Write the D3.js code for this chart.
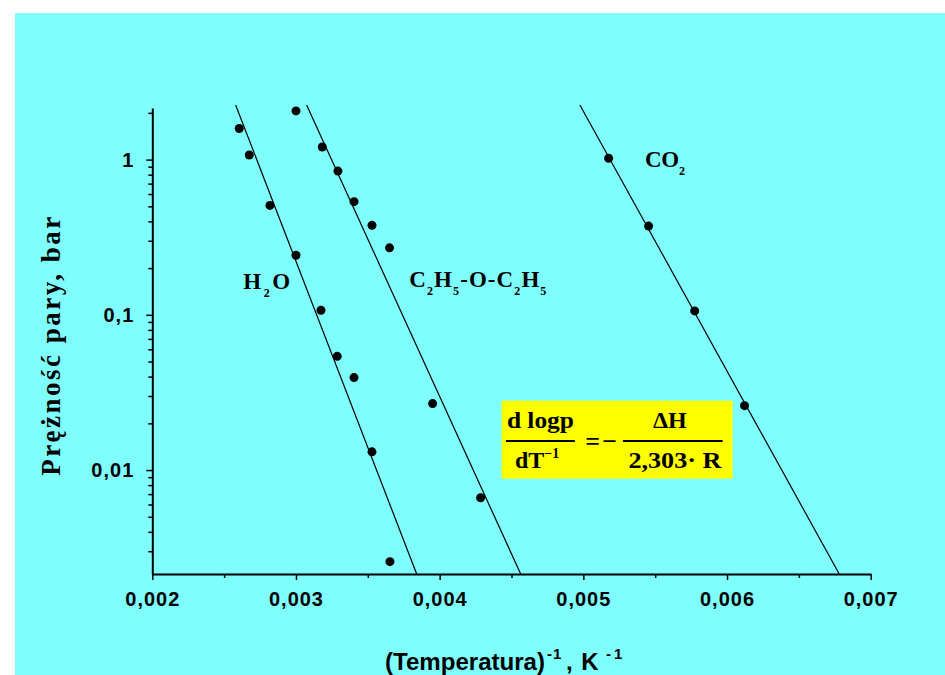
<!DOCTYPE html>
<meta charset="utf-8">
<title>Prężność pary</title>
<style>
body { margin:0; background:#fff; }
.tick text { font: bold 20px "Liberation Sans", Arial, sans-serif; letter-spacing:1px; }
.lbl { font-family:"Liberation Serif","Times New Roman",serif; font-weight:bold; fill:#000; }
.xlbl { font-family:"Liberation Sans",Arial,sans-serif; font-weight:bold; fill:#000; }
</style>
<svg width="945" height="675"></svg>
<script src="https://d3js.org/d3.v7.min.js"></script>
<script>
// tick values and labels
var xTicks = [0.002, 0.003, 0.004, 0.005, 0.006, 0.007];
var xTickLabels = ["0,002", "0,003", "0,004", "0,005", "0,006", "0,007"];
var xMinor = [0.0025, 0.0035, 0.0045, 0.0055, 0.0065];
var yTicks = [0.01, 0.1, 1];
var yTickLabels = ["0,01", "0,1", "1"];

// measured points (1/T, p)
var h2oX = [0.002605, 0.002675, 0.002819, 0.003000, 0.003174, 0.003287, 0.003404, 0.003529, 0.003654];
var h2oP = [1.585, 1.07, 0.507, 0.242, 0.107, 0.054, 0.0394, 0.0131, 0.00257];
var eterX = [0.003000, 0.003183, 0.003292, 0.003404, 0.003529, 0.003651, 0.003951, 0.004285];
var eterP = [2.06, 1.205, 0.843, 0.536, 0.377, 0.270, 0.0268, 0.00663];
var co2X = [0.005176, 0.005454, 0.005775, 0.006122];
var co2P = [1.02, 0.373, 0.106, 0.026];

// fitted lines, end points
var h2oFitX = [0.00258, 0.00384], h2oFitP = [2.25, 0.00214];
var eterFitX = [0.003074, 0.004564], eterFitP = [2.25, 0.00214];
var co2FitX = [0.004976, 0.006781], co2FitP = [2.25, 0.00214];

var svg = d3.select("svg");

svg.append("rect")
  .attr("x", 15).attr("y", 13)
  .attr("width", 930).attr("height", 662)
  .attr("fill", "#80ffff");

var x = d3.scaleLinear().domain([0.002, 0.007]).range([152.3, 870.7]);
var y = d3.scaleLog().domain([0.00214, 2.15]).range([574, 108]);

var yMinor = [];
[0.001, 0.01, 0.1, 1].forEach(function(dec) {
  for (var k = 2; k <= 9; k++) {
    var v = dec * k;
    if (v > 0.00214 && v < 2.15) yMinor.push(v);
  }
});

// minor ticks
svg.append("g")
  .attr("transform", "translate(0,574)")
  .call(d3.axisBottom(x).tickValues(xMinor).tickSize(4).tickSizeOuter(0).tickFormat(""))
  .call(function(g) { g.select(".domain").remove(); })
  .selectAll("line").attr("stroke", "#000").attr("stroke-width", 1.5);

svg.append("g")
  .attr("transform", "translate(152.3,0)")
  .call(d3.axisLeft(y).tickValues(yMinor).tickSize(4).tickSizeOuter(0).tickFormat(""))
  .call(function(g) { g.select(".domain").remove(); })
  .selectAll("line").attr("stroke", "#000").attr("stroke-width", 1.5);

// main axes
var gx = svg.append("g")
  .attr("transform", "translate(0,574)")
  .attr("color", "#000")
  .call(d3.axisBottom(x).tickValues(xTicks).tickSize(6).tickSizeOuter(0).tickPadding(12)
    .tickFormat(function(d, i) { return xTickLabels[i]; }));
gx.select(".domain").attr("stroke-width", 2);
gx.selectAll("line").attr("stroke-width", 1.5);

var gy = svg.append("g")
  .attr("transform", "translate(152.3,0)")
  .attr("color", "#000")
  .call(d3.axisLeft(y).tickValues(yTicks).tickSize(6).tickSizeOuter(0).tickPadding(12)
    .tickFormat(function(d, i) { return yTickLabels[i]; }));
gy.select(".domain").attr("stroke-width", 2);
gy.selectAll("line").attr("stroke-width", 1.5);

// fit lines
var line = d3.line()
  .x(function(d) { return x(d[0]); })
  .y(function(d) { return y(d[1]); });

[[h2oFitX, h2oFitP], [eterFitX, eterFitP], [co2FitX, co2FitP]].forEach(function(s) {
  svg.append("path")
    .attr("d", line(d3.zip(s[0], s[1])))
    .attr("fill", "none")
    .attr("stroke", "#000")
    .attr("stroke-width", 1.2);
});

// points
[[h2oX, h2oP], [eterX, eterP], [co2X, co2P]].forEach(function(s) {
  svg.append("g").selectAll("circle")
    .data(d3.zip(s[0], s[1]))
    .enter().append("circle")
    .attr("cx", function(d) { return x(d[0]); })
    .attr("cy", function(d) { return y(d[1]); })
    .attr("r", 4.5)
    .attr("fill", "#000");
});

// series labels with subscripts
function formula(px, py, parts, len) {
  var t = svg.append("text").attr("class", "lbl")
    .attr("x", x(px)).attr("y", y(py)).style("font-size", "23px");
  parts.forEach(function(p) {
    if (p[1]) {
      t.append("tspan").text(p[0]).attr("dy", 8).style("font-size", "12px");
    } else {
      t.append("tspan").text(p[0]).attr("dy", p[2] ? -8 : 0);
    }
  });
  if (len) t.attr("textLength", len).attr("lengthAdjust", "spacing");
  return t;
}
formula(0.002633, 0.146, [["H"], ["2", 1], ["O", 0, 1]], 47);
formula(0.003789, 0.152, [["C"], ["2", 1], ["H", 0, 1], ["5", 1], ["-O-C", 0, 1], ["2", 1], ["H", 0, 1], ["5", 1]], 137);
formula(0.005429, 0.902, [["C"], ["O", 0, 0], ["2", 1]], 40);

// yellow formula box
var fb = svg.append("g")
  .attr("transform", "translate(" + x(0.004431) + "," + y(0.028) + ")");
fb.append("rect").attr("width", 231).attr("height", 78).attr("fill", "#ffff00");
fb.append("text").attr("class", "lbl").attr("x", 38.8).attr("y", 27)
  .attr("text-anchor", "middle").style("font-size", "24px")
  .attr("textLength", 67).attr("lengthAdjust", "spacingAndGlyphs").text("d logp");
fb.append("line").attr("x1", 4.3).attr("x2", 73.3).attr("y1", 40.3).attr("y2", 40.3)
  .attr("stroke", "#000").attr("stroke-width", 2);
var den = fb.append("text").attr("class", "lbl").attr("x", 13.3).attr("y", 67).style("font-size", "24px");
den.append("tspan").text("dT");
den.append("tspan").text("−1").attr("dy", -10).style("font-size", "14px");
fb.append("text").attr("class", "lbl").attr("x", 91).attr("y", 49)
  .attr("text-anchor", "middle").style("font-size", "26px").text("=");
fb.append("text").attr("class", "lbl").attr("x", 108).attr("y", 49)
  .attr("text-anchor", "middle").style("font-size", "26px").text("−");
fb.append("line").attr("x1", 121.3).attr("x2", 221).attr("y1", 40.3).attr("y2", 40.3)
  .attr("stroke", "#000").attr("stroke-width", 2);
fb.append("text").attr("class", "lbl").attr("x", 168.3).attr("y", 27)
  .attr("text-anchor", "middle").style("font-size", "24px").text("ΔH");
fb.append("text").attr("class", "lbl").attr("x", 173.3).attr("y", 67)
  .attr("text-anchor", "middle").style("font-size", "24px")
  .attr("textLength", 93).attr("lengthAdjust", "spacingAndGlyphs").text("2,303· R");

// axis titles
svg.append("text").attr("class", "lbl")
  .attr("transform", "translate(60,345) rotate(-90)")
  .attr("text-anchor", "middle")
  .style("font-size", "27px").style("letter-spacing", "2.5px")
  .text("Prężność pary, bar");

var xt = svg.append("text").attr("class", "xlbl")
  .attr("y", 670).style("font-size", "24px");
xt.append("tspan").attr("x", 385).text("(Temperatura)")
  .attr("textLength", 160).attr("lengthAdjust", "spacingAndGlyphs");
xt.append("tspan").attr("x", 547).text("-1").attr("dy", -11).style("font-size", "15px").style("letter-spacing", "1px");
xt.append("tspan").attr("x", 566).text(", K").attr("dy", 11).style("letter-spacing", "1px");
xt.append("tspan").attr("x", 606).text("-1").attr("dy", -11).style("font-size", "15px").style("letter-spacing", "3px");
</script>
